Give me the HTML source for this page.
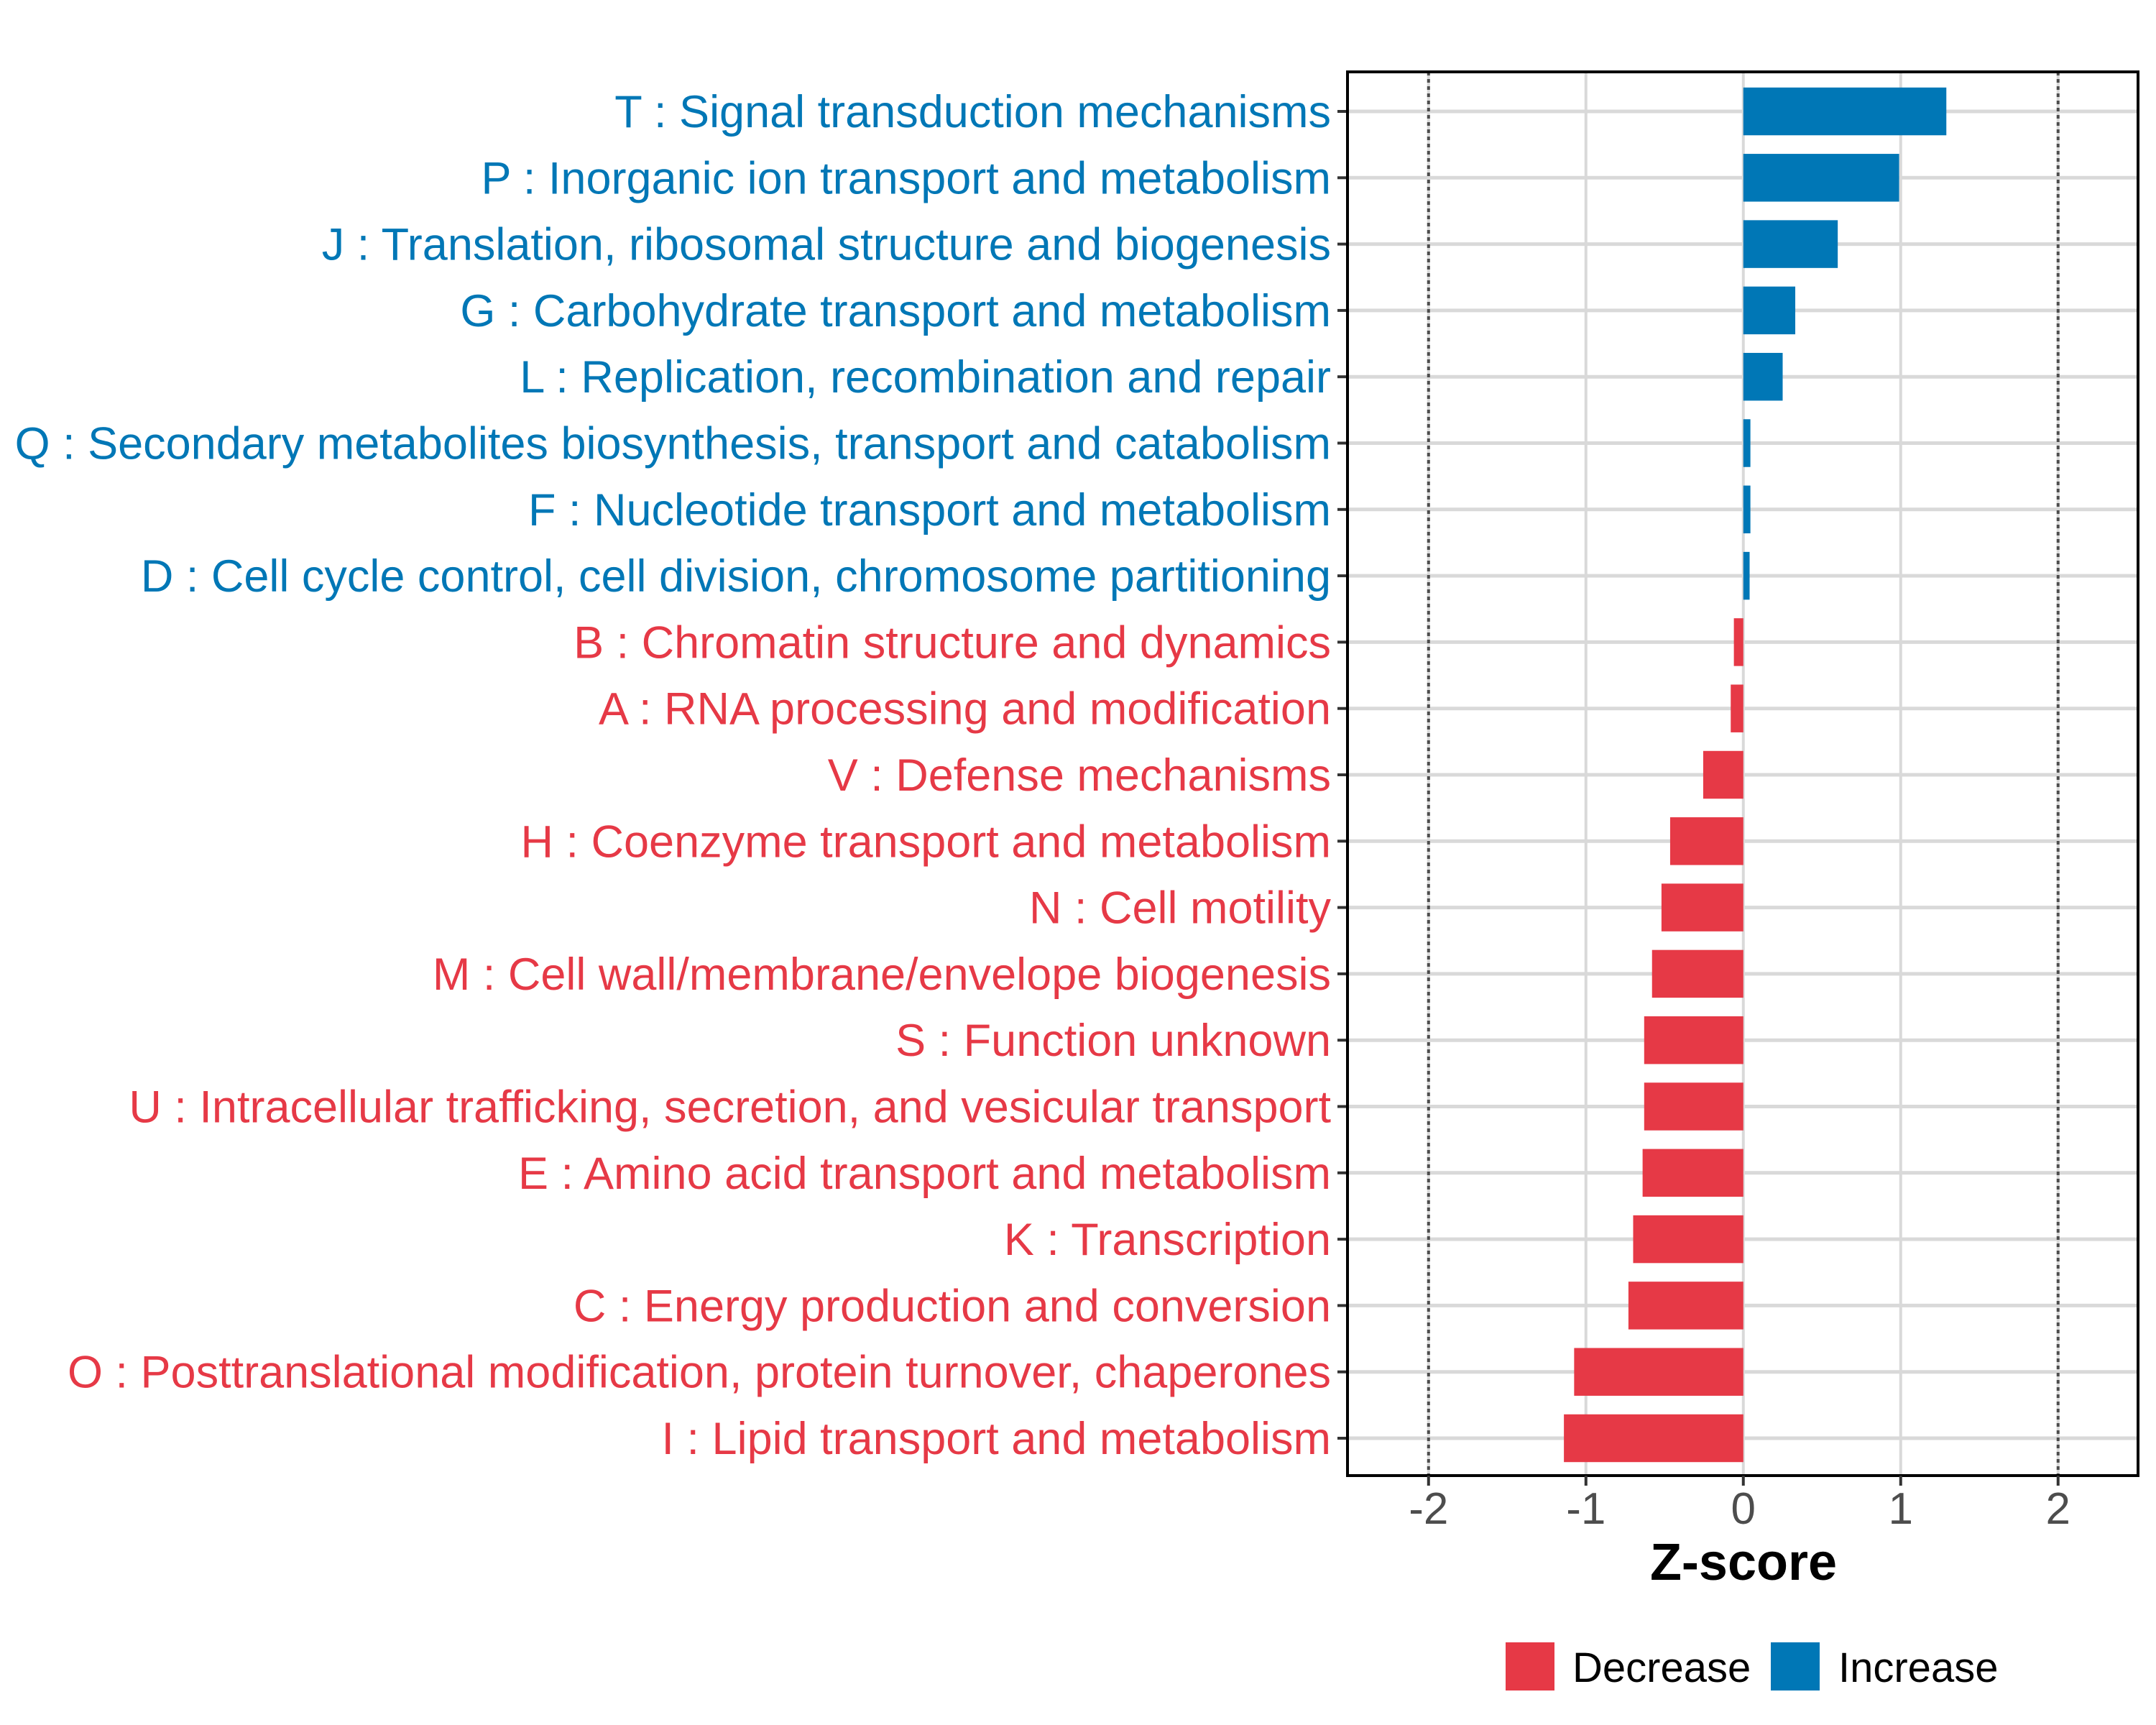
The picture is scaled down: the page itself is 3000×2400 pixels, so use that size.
<!DOCTYPE html>
<html><head><meta charset="utf-8"><style>
html,body{margin:0;padding:0;background:#fff}
svg{display:block}
text{font-family:"Liberation Sans",Arial,sans-serif}
</style></head><body>
<svg id="chart" width="3000" height="2400" viewBox="0 0 3000 2400" xmlns="http://www.w3.org/2000/svg">
<rect width="3000" height="2400" fill="#fff"/>
<g id="grid"></g>
<g id="bars"></g>
<g id="labels"></g>
<g id="xaxis"></g>
<text x="2426" y="2198" font-size="72" font-weight="bold" text-anchor="middle" fill="#000">Z-score</text>
<g>
<rect x="2095" y="2285" width="68" height="67" fill="#E63946"/>
<text x="2188" y="2340" font-size="58" fill="#000">Decrease</text>
<rect x="2464" y="2285" width="68" height="67" fill="#0077B6"/>
<text x="2558" y="2340" font-size="58" fill="#000">Increase</text>
</g>
</svg>
<script>
const categories = [
"T : Signal transduction mechanisms",
"P : Inorganic ion transport and metabolism",
"J : Translation, ribosomal structure and biogenesis",
"G : Carbohydrate transport and metabolism",
"L : Replication, recombination and repair",
"Q : Secondary metabolites biosynthesis, transport and catabolism",
"F : Nucleotide transport and metabolism",
"D : Cell cycle control, cell division, chromosome partitioning",
"B : Chromatin structure and dynamics",
"A : RNA processing and modification",
"V : Defense mechanisms",
"H : Coenzyme transport and metabolism",
"N : Cell motility",
"M : Cell wall/membrane/envelope biogenesis",
"S : Function unknown",
"U : Intracellular trafficking, secretion, and vesicular transport",
"E : Amino acid transport and metabolism",
"K : Transcription",
"C : Energy production and conversion",
"O : Posttranslational modification, protein turnover, chaperones",
"I : Lipid transport and metabolism"];
const zscores = [1.29,0.99,0.60,0.33,0.25,0.045,0.045,0.04,-0.06,-0.08,-0.255,-0.465,-0.52,-0.58,-0.63,-0.63,-0.64,-0.70,-0.73,-1.075,-1.14];
const xTicks = [-2,-1,0,1,2];
const xTickLabels = ["-2","-1","0","1","2"];
const thresholds = [-2,2];

const NS="http://www.w3.org/2000/svg";
const L=1875,R=2975,T=100,B=2053;
const xMin=-2.515,xMax=2.508;
const X=v=>L+(v-xMin)/(xMax-xMin)*(R-L);
const step=(2001-155)/20;
const Y=i=>155+i*step;
const bh=step*0.72;
function mk(tag,attrs,parent){const e=document.createElementNS(NS,tag);for(const k in attrs)e.setAttribute(k,attrs[k]);parent.appendChild(e);return e;}
const grid=document.getElementById('grid'),bars=document.getElementById('bars'),labels=document.getElementById('labels'),xa=document.getElementById('xaxis');
xTicks.forEach((t,i)=>{
  const g=mk('line',{x1:X(t),x2:X(t),y1:T,y2:B,stroke:'#d9d9d9','stroke-width':4},grid);
  
  
});
categories.forEach((c,i)=>{
  const g=mk('line',{x1:L,x2:R,y1:Y(i),y2:Y(i),stroke:'#d9d9d9','stroke-width':5},grid);
  
  
});
thresholds.forEach(t=>{
  const d=mk('line',{x1:X(t),x2:X(t),y1:T,y2:B,stroke:'#4d4d4d','stroke-width':4,'stroke-dasharray':'5 5'},grid);
  
  
});
zscores.forEach((v,i)=>{
  const x0=X(0),x1=X(v);
  const col=v>=0?'#0077B6':'#E63946';
  const r=mk('rect',{x:Math.min(x0,x1),y:Y(i)-bh/2,width:Math.abs(x1-x0),height:bh,fill:col},bars);
  
  
  const t=mk('text',{x:1852,y:Y(i)+22,'font-size':63,'text-anchor':'end',fill:col},labels);
  t.textContent=categories[i];
  
  
  const tk=mk('line',{x1:1861,x2:L,y1:Y(i),y2:Y(i),stroke:'#333','stroke-width':4},labels);
  
  
});
const frame=mk('rect',{x:L,y:T,width:R-L,height:B-T,fill:'none',stroke:'#000','stroke-width':4},xa);


xTicks.forEach((t,i)=>{
  const tk=mk('line',{x1:X(t),x2:X(t),y1:B,y2:B+14,stroke:'#333','stroke-width':4},xa);
  
  
  const tl=mk('text',{x:X(t),y:2120,'font-size':62,'text-anchor':'middle',fill:'#4d4d4d'},xa);
  tl.textContent=xTickLabels[i];
  
  
});
</script>
</body></html>
